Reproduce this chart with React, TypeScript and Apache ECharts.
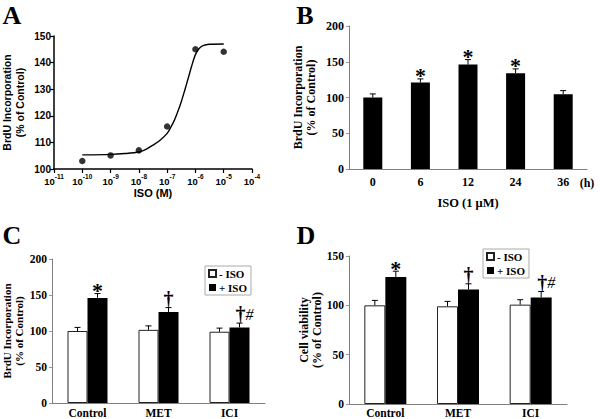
import React, { useEffect, useRef } from 'react';
import * as echarts from 'echarts';

// Panel A: dose response (x = log10 of ISO molar concentration)
const doseExp = [-10, -9, -8, -7, -6, -5];
const brduDose = [103, 105.1, 107, 116, 145, 144.1];
// fitted curve
const fitExp = [-10, -9, -8.5, -8, -7.75, -7.5, -7.25, -7, -6.875, -6.75, -6.625, -6.5, -6.375, -6.25, -6.125, -6, -5.875, -5.75, -5.5, -5];
const fitVal = [105.3, 105.5, 105.8, 106.4, 107.4, 109, 110.8, 113.4, 115.6, 118.2, 121.5, 125.3, 129.7, 134.3, 139, 143, 145.2, 146.3, 146.9, 147];

// Panel B: time course
const hours = ['0', '6', '12', '24', '36'];
const brduTime = [100, 121, 146, 134, 104.6];
const brduTimeErr = [5, 5, 7, 6, 5];
const markTime = ['', '*', '*', '*', ''];

// Panel C: BrdU incorporation with blockers
const groups = ['Control', 'MET', 'ICI'];
const brduNoIso = [100, 101.6, 99];
const brduNoIsoErr = [5, 5.5, 5];
const brduIso = [146, 126.5, 105];
const brduIsoErr = [6, 6, 6];
const markBrdu = ['*', '†', '†#'];

// Panel D: cell viability with blockers
const viabNoIso = [100, 99, 100.7];
const viabNoIsoErr = [5, 5, 5];
const viabIso = [128.6, 116, 108];
const viabIsoErr = [6, 5.8, 6];
const markViab = ['*', '†', '†#'];

const SANS = '"Liberation Sans", Arial, sans-serif';
const SERIF = '"Liberation Serif", "Times New Roman", serif';

function errRenderer(offset: number, cap: number) {
  return (params: any, api: any) => {
    const i = api.value(0);
    const v = api.value(1);
    const e = api.value(2);
    const p0 = api.coord([i, v]);
    const p1 = api.coord([i, v + e]);
    const x = p0[0] + offset;
    const style = { stroke: '#000', lineWidth: 1 };
    return {
      type: 'group',
      children: [
        { type: 'line', shape: { x1: x, y1: p0[1], x2: x, y2: p1[1] }, style },
        { type: 'line', shape: { x1: x - cap, y1: p1[1], x2: x + cap, y2: p1[1] }, style },
      ],
    };
  };
}

function markRenderer(marks: string[], offset: number) {
  return (params: any, api: any) => {
    const s = marks[params.dataIndex];
    if (!s) return null;
    const p = api.coord([api.value(0), api.value(1)]);
    const sym = s.slice(0, 1);
    const extra = s.slice(1);
    const dy = sym === '*' ? 8 : 1;
    return {
      type: 'text',
      x: p[0] + offset + (extra ? 5 : 0),
      y: p[1] + dy,
      style: {
        text: extra ? `{m|${sym}}{h|${extra}}` : `{m|${sym}}`,
        align: 'center',
        verticalAlign: 'bottom',
        rich: {
          m: { fontFamily: SERIF, fontWeight: 'bold', fontSize: sym === '*' ? 22 : 20, fill: '#000', lineHeight: 22, verticalAlign: 'bottom' },
          h: { fontFamily: SERIF, fontStyle: 'italic', fontSize: 16, fill: '#000', lineHeight: 22, verticalAlign: 'bottom', padding: [0, 0, 2, 0] },
        },
      },
    };
  };
}

export default function App() {
  const ref = useRef<HTMLDivElement>(null);

  useEffect(() => {
    if (!ref.current) return;
    const chart = echarts.init(ref.current, undefined, { renderer: 'svg' });

    const grayLine = { lineStyle: { color: '#808080', width: 1 } };
    const serifLabel = { fontFamily: SERIF, fontWeight: 'bold', color: '#000' };

    const barW_B = 19;
    const barW_C = 20;
    const barW_D = 21;

    const legendBase = {
      data: ['- ISO', '+ ISO'],
      orient: 'vertical',
      icon: 'rect',
      itemWidth: 7,
      itemHeight: 7,
      itemGap: 3,
      padding: [2, 4, 2, 3],
      borderColor: '#aaa',
      borderWidth: 1,
      selectedMode: false,
      textStyle: { ...serifLabel, fontSize: 11, padding: [0, 0, 0, -2] },
    };

    const option: any = {
      animation: false,
      backgroundColor: '#fff',
      grid: [
        { left: 52, top: 36, width: 200, height: 133 },
        { left: 349, top: 26, width: 238, height: 143 },
        { left: 51, top: 259, width: 214, height: 145 },
        { left: 349, top: 256, width: 218, height: 149 },
      ],
      xAxis: [
        {
          gridIndex: 0,
          type: 'value',
          min: -11,
          max: -4,
          interval: 1,
          splitLine: { show: false },
          axisLine: { lineStyle: { color: '#000', width: 1.5 } },
          axisTick: { length: 4, lineStyle: { color: '#000', width: 1.2 } },
          axisLabel: {
            margin: 4,
            formatter: (v: number) => `{b|10}{s|${v}}`,
            rich: {
              b: { fontFamily: SANS, fontWeight: 'bold', fontSize: 9.5, color: '#000', lineHeight: 13, verticalAlign: 'bottom' },
              s: { fontFamily: SANS, fontWeight: 'bold', fontSize: 6.5, color: '#000', lineHeight: 13, verticalAlign: 'top' },
            },
          },
          name: 'ISO (M)',
          nameLocation: 'middle',
          nameGap: 18,
          nameTextStyle: { fontFamily: SANS, fontWeight: 'bold', fontSize: 11, color: '#000' },
        },
        {
          gridIndex: 1,
          type: 'category',
          data: hours,
          axisLine: grayLine,
          axisTick: { length: 3, lineStyle: { color: '#999' } },
          axisLabel: { ...serifLabel, fontSize: 12, margin: 7 },
          name: 'ISO (1 μM)',
          nameLocation: 'middle',
          nameGap: 27,
          nameTextStyle: { ...serifLabel, fontSize: 12.5 },
        },
        {
          gridIndex: 2,
          type: 'category',
          data: groups,
          axisLine: grayLine,
          axisTick: { length: 3, lineStyle: { color: '#999' } },
          axisLabel: { ...serifLabel, fontSize: 11.5, margin: 4 },
        },
        {
          gridIndex: 3,
          type: 'category',
          data: groups,
          axisLine: grayLine,
          axisTick: { length: 3, lineStyle: { color: '#999' } },
          axisLabel: { ...serifLabel, fontSize: 11.5, margin: 3 },
        },
      ],
      yAxis: [
        {
          gridIndex: 0,
          type: 'value',
          min: 100,
          max: 150,
          interval: 10,
          splitLine: { show: false },
          axisLine: { show: true, lineStyle: { color: '#000', width: 1.5 } },
          axisTick: { show: true, length: 4, lineStyle: { color: '#000', width: 1.2 } },
          axisLabel: { fontFamily: SANS, fontWeight: 'bold', fontSize: 10, color: '#000', margin: 3 },
          name: 'BrdU Incorporation\n(% of Control)',
          nameLocation: 'middle',
          nameRotate: 90,
          nameGap: 28,
          nameTextStyle: { fontFamily: SANS, fontWeight: 'bold', fontSize: 10.5, lineHeight: 12.5, color: '#000' },
        },
        {
          gridIndex: 1,
          type: 'value',
          min: 0,
          max: 200,
          interval: 50,
          splitLine: { show: false },
          axisLine: { show: true, ...grayLine },
          axisTick: { show: true, length: 3, lineStyle: { color: '#999' } },
          axisLabel: { ...serifLabel, fontSize: 12, margin: 5 },
          name: 'BrdU Incorporation\n(% of Control)',
          nameLocation: 'middle',
          nameRotate: 90,
          nameGap: 32,
          nameTextStyle: { ...serifLabel, fontSize: 12, lineHeight: 13 },
        },
        {
          gridIndex: 2,
          type: 'value',
          min: 0,
          max: 200,
          interval: 50,
          splitLine: { show: false },
          axisLine: { show: true, ...grayLine },
          axisTick: { show: true, length: 3, lineStyle: { color: '#999' } },
          axisLabel: { ...serifLabel, fontSize: 11.5, margin: 5 },
          name: 'BrdU Incorporation\n(% of Control)',
          nameLocation: 'middle',
          nameRotate: 90,
          nameGap: 27,
          nameTextStyle: { ...serifLabel, fontSize: 11, lineHeight: 12 },
        },
        {
          gridIndex: 3,
          type: 'value',
          min: 0,
          max: 150,
          interval: 50,
          splitLine: { show: false },
          axisLine: { show: true, ...grayLine },
          axisTick: { show: true, length: 3, lineStyle: { color: '#999' } },
          axisLabel: { ...serifLabel, fontSize: 11.5, margin: 5 },
          name: 'Cell viability\n(% of Control)',
          nameLocation: 'middle',
          nameRotate: 90,
          nameGap: 25,
          nameTextStyle: { ...serifLabel, fontSize: 12, lineHeight: 12.5 },
        },
      ],
      legend: [
        { ...legendBase, left: 205, top: 266 },
        { ...legendBase, left: 483, top: 249 },
      ],
      series: [
        // Panel A
        {
          type: 'line',
          xAxisIndex: 0,
          yAxisIndex: 0,
          data: fitExp.map((e, i) => [e, fitVal[i]]),
          smooth: 0.3,
          showSymbol: false,
          lineStyle: { color: '#000', width: 1.4 },
          silent: true,
        },
        {
          type: 'scatter',
          xAxisIndex: 0,
          yAxisIndex: 0,
          data: doseExp.map((e, i) => [e, brduDose[i]]),
          symbolSize: 6.5,
          itemStyle: { color: '#000' },
        },
        // Panel B
        {
          type: 'bar',
          xAxisIndex: 1,
          yAxisIndex: 1,
          data: brduTime,
          barWidth: barW_B,
          itemStyle: { color: '#000' },
        },
        {
          type: 'custom',
          xAxisIndex: 1,
          yAxisIndex: 1,
          data: brduTime.map((v, i) => [i, v, brduTimeErr[i]]),
          renderItem: errRenderer(0, 3),
          z: 3,
        },
        {
          type: 'custom',
          xAxisIndex: 1,
          yAxisIndex: 1,
          data: brduTime.map((v, i) => [i, v + brduTimeErr[i]]),
          renderItem: markRenderer(markTime, 0),
          z: 4,
        },
        // Panel C
        {
          name: '- ISO',
          type: 'bar',
          xAxisIndex: 2,
          yAxisIndex: 2,
          data: brduNoIso,
          barWidth: barW_C,
          barGap: '0%',
          itemStyle: { color: '#fff', borderColor: '#222', borderWidth: 1 },
        },
        {
          name: '+ ISO',
          type: 'bar',
          xAxisIndex: 2,
          yAxisIndex: 2,
          data: brduIso,
          barWidth: barW_C,
          barGap: '0%',
          itemStyle: { color: '#000' },
        },
        {
          type: 'custom',
          xAxisIndex: 2,
          yAxisIndex: 2,
          data: brduNoIso.map((v, i) => [i, v, brduNoIsoErr[i]]),
          renderItem: errRenderer(-barW_C / 2, 3),
          z: 3,
        },
        {
          type: 'custom',
          xAxisIndex: 2,
          yAxisIndex: 2,
          data: brduIso.map((v, i) => [i, v, brduIsoErr[i]]),
          renderItem: errRenderer(barW_C / 2, 3),
          z: 3,
        },
        {
          type: 'custom',
          xAxisIndex: 2,
          yAxisIndex: 2,
          data: brduIso.map((v, i) => [i, v + brduIsoErr[i]]),
          renderItem: markRenderer(markBrdu, barW_C / 2),
          z: 4,
        },
        // Panel D
        {
          name: '- ISO',
          type: 'bar',
          xAxisIndex: 3,
          yAxisIndex: 3,
          data: viabNoIso,
          barWidth: barW_D,
          barGap: '0%',
          itemStyle: { color: '#fff', borderColor: '#222', borderWidth: 1 },
        },
        {
          name: '+ ISO',
          type: 'bar',
          xAxisIndex: 3,
          yAxisIndex: 3,
          data: viabIso,
          barWidth: barW_D,
          barGap: '0%',
          itemStyle: { color: '#000' },
        },
        {
          type: 'custom',
          xAxisIndex: 3,
          yAxisIndex: 3,
          data: viabNoIso.map((v, i) => [i, v, viabNoIsoErr[i]]),
          renderItem: errRenderer(-barW_D / 2, 3),
          z: 3,
        },
        {
          type: 'custom',
          xAxisIndex: 3,
          yAxisIndex: 3,
          data: viabIso.map((v, i) => [i, v, viabIsoErr[i]]),
          renderItem: errRenderer(barW_D / 2, 3),
          z: 3,
        },
        {
          type: 'custom',
          xAxisIndex: 3,
          yAxisIndex: 3,
          data: viabIso.map((v, i) => [i, v + viabIsoErr[i]]),
          renderItem: markRenderer(markViab, barW_D / 2),
          z: 4,
        },
      ],
      graphic: [
        { type: 'text', x: 12, y: 15, style: { text: 'A', font: `bold 26px ${SERIF}`, fill: '#000', align: 'center', verticalAlign: 'middle' } },
        { type: 'text', x: 305, y: 15, style: { text: 'B', font: `bold 26px ${SERIF}`, fill: '#000', align: 'center', verticalAlign: 'middle' } },
        { type: 'text', x: 12, y: 235, style: { text: 'C', font: `bold 26px ${SERIF}`, fill: '#000', align: 'center', verticalAlign: 'middle' } },
        { type: 'text', x: 306, y: 235, style: { text: 'D', font: `bold 26px ${SERIF}`, fill: '#000', align: 'center', verticalAlign: 'middle' } },
        { type: 'text', x: 587, y: 183, style: { text: '(h)', font: `bold 12px ${SERIF}`, fill: '#000', align: 'center', verticalAlign: 'middle' } },
      ],
    };

    chart.setOption(option);
    return () => chart.dispose();
  }, []);

  return (
    <div
      ref={ref}
      style={{ position: 'fixed', left: 0, top: 0, width: 600, height: 419, background: '#fff' }}
    />
  );
}
